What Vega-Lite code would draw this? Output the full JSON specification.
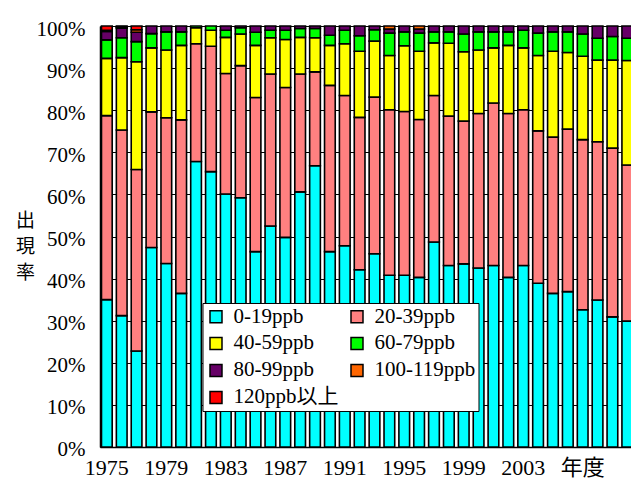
{
  "$schema": "https://vega.github.io/schema/vega-lite/v6.json",
  "autosize": {"type": "none"},
  "padding": {"left": 100, "top": 26, "right": 0, "bottom": 43},
  "width": {"step": 14.87},
  "height": 421,
  "background": "white",
  "config": {"view": {"stroke": null}, "font": "Liberation Serif, Noto Sans CJK JP"},
  "data": {"values": [
    {"year": 1975, "0-19ppb": 35.0, "20-39ppb": 43.7, "40-59ppb": 13.6, "60-79ppb": 4.4, "80-99ppb": 2.0, "100-119ppb": 0.3, "120ppb以上": 1.0},
    {"year": 1976, "0-19ppb": 31.2, "20-39ppb": 44.1, "40-59ppb": 17.2, "60-79ppb": 4.7, "80-99ppb": 2.3, "100-119ppb": 0.2, "120ppb以上": 0.3},
    {"year": 1977, "0-19ppb": 22.8, "20-39ppb": 43.1, "40-59ppb": 25.6, "60-79ppb": 4.8, "80-99ppb": 2.2, "100-119ppb": 0.6, "120ppb以上": 0.9},
    {"year": 1978, "0-19ppb": 47.4, "20-39ppb": 32.2, "40-59ppb": 15.2, "60-79ppb": 3.4, "80-99ppb": 1.8, "100-119ppb": 0, "120ppb以上": 0},
    {"year": 1979, "0-19ppb": 43.6, "20-39ppb": 34.6, "40-59ppb": 16.1, "60-79ppb": 4.3, "80-99ppb": 1.4, "100-119ppb": 0, "120ppb以上": 0},
    {"year": 1980, "0-19ppb": 36.5, "20-39ppb": 41.2, "40-59ppb": 17.7, "60-79ppb": 3.2, "80-99ppb": 1.4, "100-119ppb": 0, "120ppb以上": 0},
    {"year": 1981, "0-19ppb": 67.8, "20-39ppb": 28.0, "40-59ppb": 3.8, "60-79ppb": 0.4, "80-99ppb": 0, "100-119ppb": 0, "120ppb以上": 0},
    {"year": 1982, "0-19ppb": 65.4, "20-39ppb": 29.8, "40-59ppb": 3.8, "60-79ppb": 1.0, "80-99ppb": 0, "100-119ppb": 0, "120ppb以上": 0},
    {"year": 1983, "0-19ppb": 60.1, "20-39ppb": 28.6, "40-59ppb": 8.6, "60-79ppb": 1.7, "80-99ppb": 1.0, "100-119ppb": 0, "120ppb以上": 0},
    {"year": 1984, "0-19ppb": 59.2, "20-39ppb": 31.4, "40-59ppb": 7.5, "60-79ppb": 1.5, "80-99ppb": 0.4, "100-119ppb": 0, "120ppb以上": 0},
    {"year": 1985, "0-19ppb": 46.4, "20-39ppb": 36.6, "40-59ppb": 12.4, "60-79ppb": 3.1, "80-99ppb": 1.5, "100-119ppb": 0, "120ppb以上": 0},
    {"year": 1986, "0-19ppb": 52.5, "20-39ppb": 36.1, "40-59ppb": 8.6, "60-79ppb": 1.8, "80-99ppb": 1.0, "100-119ppb": 0, "120ppb以上": 0},
    {"year": 1987, "0-19ppb": 49.8, "20-39ppb": 35.6, "40-59ppb": 11.4, "60-79ppb": 2.2, "80-99ppb": 1.0, "100-119ppb": 0, "120ppb以上": 0},
    {"year": 1988, "0-19ppb": 60.6, "20-39ppb": 28.0, "40-59ppb": 8.7, "60-79ppb": 2.1, "80-99ppb": 0.6, "100-119ppb": 0, "120ppb以上": 0},
    {"year": 1989, "0-19ppb": 66.8, "20-39ppb": 22.3, "40-59ppb": 8.1, "60-79ppb": 2.2, "80-99ppb": 0.6, "100-119ppb": 0, "120ppb以上": 0},
    {"year": 1990, "0-19ppb": 46.4, "20-39ppb": 39.5, "40-59ppb": 9.5, "60-79ppb": 2.4, "80-99ppb": 2.2, "100-119ppb": 0, "120ppb以上": 0},
    {"year": 1991, "0-19ppb": 47.8, "20-39ppb": 35.7, "40-59ppb": 12.3, "60-79ppb": 3.2, "80-99ppb": 1.0, "100-119ppb": 0, "120ppb以上": 0},
    {"year": 1992, "0-19ppb": 42.1, "20-39ppb": 36.2, "40-59ppb": 15.7, "60-79ppb": 3.7, "80-99ppb": 2.3, "100-119ppb": 0, "120ppb以上": 0},
    {"year": 1993, "0-19ppb": 45.9, "20-39ppb": 37.2, "40-59ppb": 13.3, "60-79ppb": 2.7, "80-99ppb": 0.9, "100-119ppb": 0, "120ppb以上": 0},
    {"year": 1994, "0-19ppb": 40.8, "20-39ppb": 39.3, "40-59ppb": 12.9, "60-79ppb": 5.3, "80-99ppb": 1.0, "100-119ppb": 0.7, "120ppb以上": 0},
    {"year": 1995, "0-19ppb": 40.8, "20-39ppb": 38.9, "40-59ppb": 15.6, "60-79ppb": 3.3, "80-99ppb": 1.4, "100-119ppb": 0, "120ppb以上": 0},
    {"year": 1996, "0-19ppb": 40.3, "20-39ppb": 37.5, "40-59ppb": 16.2, "60-79ppb": 4.3, "80-99ppb": 1.0, "100-119ppb": 0.7, "120ppb以上": 0},
    {"year": 1997, "0-19ppb": 48.7, "20-39ppb": 34.8, "40-59ppb": 12.5, "60-79ppb": 2.6, "80-99ppb": 1.4, "100-119ppb": 0, "120ppb以上": 0},
    {"year": 1998, "0-19ppb": 43.1, "20-39ppb": 35.5, "40-59ppb": 17.3, "60-79ppb": 2.7, "80-99ppb": 1.4, "100-119ppb": 0, "120ppb以上": 0},
    {"year": 1999, "0-19ppb": 43.5, "20-39ppb": 33.9, "40-59ppb": 16.5, "60-79ppb": 4.2, "80-99ppb": 1.9, "100-119ppb": 0, "120ppb以上": 0},
    {"year": 2000, "0-19ppb": 42.5, "20-39ppb": 36.7, "40-59ppb": 15.1, "60-79ppb": 4.3, "80-99ppb": 1.4, "100-119ppb": 0, "120ppb以上": 0},
    {"year": 2001, "0-19ppb": 43.1, "20-39ppb": 38.6, "40-59ppb": 13.1, "60-79ppb": 3.8, "80-99ppb": 1.4, "100-119ppb": 0, "120ppb以上": 0},
    {"year": 2002, "0-19ppb": 40.3, "20-39ppb": 38.9, "40-59ppb": 16.2, "60-79ppb": 3.2, "80-99ppb": 1.4, "100-119ppb": 0, "120ppb以上": 0},
    {"year": 2003, "0-19ppb": 43.1, "20-39ppb": 37.0, "40-59ppb": 14.7, "60-79ppb": 4.2, "80-99ppb": 1.0, "100-119ppb": 0, "120ppb以上": 0},
    {"year": 2004, "0-19ppb": 38.9, "20-39ppb": 36.2, "40-59ppb": 17.9, "60-79ppb": 5.3, "80-99ppb": 1.7, "100-119ppb": 0, "120ppb以上": 0},
    {"year": 2005, "0-19ppb": 36.5, "20-39ppb": 37.1, "40-59ppb": 20.4, "60-79ppb": 4.6, "80-99ppb": 1.4, "100-119ppb": 0, "120ppb以上": 0},
    {"year": 2006, "0-19ppb": 36.9, "20-39ppb": 38.6, "40-59ppb": 18.2, "60-79ppb": 4.9, "80-99ppb": 1.4, "100-119ppb": 0, "120ppb以上": 0},
    {"year": 2007, "0-19ppb": 32.6, "20-39ppb": 40.4, "40-59ppb": 19.8, "60-79ppb": 5.3, "80-99ppb": 1.9, "100-119ppb": 0, "120ppb以上": 0},
    {"year": 2008, "0-19ppb": 34.9, "20-39ppb": 37.6, "40-59ppb": 19.4, "60-79ppb": 5.2, "80-99ppb": 2.9, "100-119ppb": 0, "120ppb以上": 0},
    {"year": 2009, "0-19ppb": 30.9, "20-39ppb": 40.1, "40-59ppb": 20.9, "60-79ppb": 5.6, "80-99ppb": 2.5, "100-119ppb": 0, "120ppb以上": 0},
    {"year": 2010, "0-19ppb": 29.9, "20-39ppb": 37.1, "40-59ppb": 24.8, "60-79ppb": 5.3, "80-99ppb": 2.9, "100-119ppb": 0, "120ppb以上": 0}
  ]},
  "transform": [
    {"fold": ["0-19ppb", "20-39ppb", "40-59ppb", "60-79ppb", "80-99ppb", "100-119ppb", "120ppb以上"], "as": ["band", "pct"]},
    {"filter": "datum.pct > 0"},
    {"calculate": "indexof(['0-19ppb','20-39ppb','40-59ppb','60-79ppb','80-99ppb','100-119ppb','120ppb以上'], datum.band)", "as": "idx"}
  ],
  "mark": {"type": "bar", "stroke": "black", "strokeWidth": 1.6},
  "encoding": {
    "x": {
      "field": "year", "type": "ordinal",
      "scale": {"paddingInner": 0.28, "paddingOuter": 0.1},
      "axis": {
        "title": null, "labelAngle": 0, "ticks": false, "tickSize": 0, "grid": false,
        "labelExpr": "datum.label == '2007' ? '年度' : (((+datum.label - 1975) % 4 == 0 && +datum.label <= 2003) ? datum.label : '')",
        "labelPadding": 11, "labelFontSize": 22, "labelColor": "black", "labelOverlap": false, "labelBound": false,
        "domainColor": "black", "domainWidth": 1.5
      }
    },
    "y": {
      "field": "pct", "type": "quantitative", "stack": "normalize",
      "scale": {"domain": [0, 1]},
      "axis": {
        "title": ["出", "現", "率"],
        "values": [0, 0.1, 0.2, 0.3, 0.4, 0.5, 0.6, 0.7, 0.8, 0.9, 1],
        "format": ".0%",
        "grid": true, "gridColor": "black", "gridWidth": 1, "gridOpacity": 1,
        "ticks": false, "tickSize": 0,
        "domain": true, "domainColor": "black", "domainWidth": 1.5,
        "labelPadding": 15, "labelFontSize": 21, "labelColor": "black", "labelOffset": 3,
        "titleAngle": 0, "titleFont": "Noto Sans CJK JP", "titleFontSize": 19, "titleFontWeight": "normal",
        "titleLineHeight": 26.5, "titleX": -75, "titleY": 194, "titleAlign": "center", "titleBaseline": "middle", "titleColor": "black"
      }
    },
    "color": {
      "field": "band", "type": "nominal",
      "scale": {
        "domain": ["0-19ppb", "20-39ppb", "40-59ppb", "60-79ppb", "80-99ppb", "100-119ppb", "120ppb以上"],
        "range": ["#00FFFF", "#FF8080", "#FFFF00", "#00FF00", "#660066", "#FF6600", "#FF0000"]
      },
      "legend": {
        "orient": "none", "legendX": 102.5, "legendY": 277, "columns": 2, "direction": "horizontal", "title": null,
        "fillColor": "white", "strokeColor": "black", "padding": 3,
        "symbolType": "square", "symbolSize": 144, "symbolStrokeColor": "black", "symbolStrokeWidth": 1.5, "symbolOpacity": 1,
        "labelFontSize": 21, "labelColor": "black", "labelOffset": 7, "labelLimit": 300,
        "rowPadding": 5, "columnPadding": 8
      }
    },
    "order": {"field": "idx", "type": "quantitative", "sort": "ascending"}
  }
}
